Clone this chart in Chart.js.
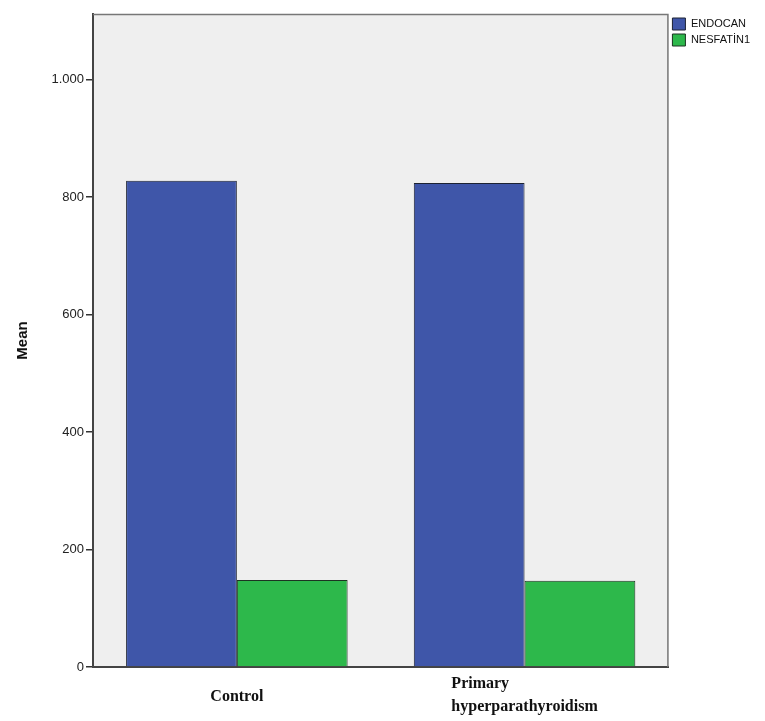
<!DOCTYPE html>
<html>
<head>
<meta charset="utf-8">
<script src="https://cdn.jsdelivr.net/npm/chart.js@4"></script>
<style>
  body { margin: 0; background: #fff; }
  #wrap { width: 765px; height: 721px; }
</style>
</head>
<body>
<div id="wrap"><canvas id="meanChart" width="765" height="721"></canvas></div>
<script>
// data
const groups = [["Control"], ["Primary", "hyperparathyroidism"]];
const endocan = [828, 824];
const nesfatin = [148, 147];
const yTicks = [0, 200, 400, 600, 800, 1000];

// plot background + thin frame on top/right
const plotFrame = {
    id: "plotFrame",
    beforeDraw(chart) {
        const a = chart.chartArea, c = chart.ctx;
        c.save();
        c.fillStyle = "#efefef";
        c.fillRect(a.left, a.top, a.right - a.left, a.bottom - a.top);
        c.restore();
    },
    afterDraw(chart) {
        const a = chart.chartArea, c = chart.ctx;
        c.save();
        c.strokeStyle = "#777";
        c.lineWidth = 1.5;
        c.beginPath();
        c.moveTo(a.left, a.top + 0.5);
        c.lineTo(a.right - 0.5, a.top + 0.5);
        c.lineTo(a.right - 0.5, a.bottom);
        c.stroke();

        // category labels, lines left aligned inside a centred block
        const xs = chart.scales.x;
        c.font = "bold 16px 'Liberation Serif', 'Times New Roman', serif";
        c.fillStyle = "#111";
        c.textBaseline = "middle";
        c.textAlign = "left";
        groups.forEach((lines, i) => {
            const cx = xs.getPixelForValue(i);
            const w = Math.max(...lines.map(t => c.measureText(t).width));
            const y0 = lines.length > 1 ? 684 : 697;
            lines.forEach((t, j) => c.fillText(t, cx - w / 2, y0 + j * 23));
        });
        c.restore();
    }
};

let chart = new Chart(document.getElementById("meanChart"), {
    type: "bar",
    data: {
        labels: groups.map(g => g.join(" ")),
        datasets: [
            {
                label: "ENDOCAN",
                data: endocan,
                backgroundColor: "#3f56a9",
                borderColor: "#1c2233",
                borderWidth: 1,
                categoryPercentage: 0.77,
                barPercentage: 1.0
            },
            {
                label: "NESFATİN1",
                data: nesfatin,
                backgroundColor: "#2db84b",
                borderColor: "#1c3322",
                borderWidth: 1,
                categoryPercentage: 0.77,
                barPercentage: 1.0
            }
        ]
    },
    options: {
        responsive: false,
        animation: false,
        layout: { padding: { top: 14, left: 14, right: 5, bottom: 0 } },
        plugins: {
            tooltip: { enabled: false },
            legend: {
                position: "right",
                align: "start",
                labels: {
                    boxWidth: 13,
                    boxHeight: 12,
                    padding: 4,
                    color: "#111",
                    font: { family: "'Liberation Sans', Arial, sans-serif", size: 11 }
                }
            }
        },
        scales: {
            x: {
                offset: true,
                grid: { display: false },
                border: { color: "#444", width: 2 },
                ticks: { display: false },
                afterFit(scale) { scale.height = 54; }
            },
            y: {
                min: 0,
                max: 1112,
                afterBuildTicks(scale) {
                    scale.ticks = yTicks.map(v => ({ value: v }));
                },
                grid: {
                    drawOnChartArea: false,
                    drawTicks: true,
                    tickLength: 7,
                    color: "#333",
                    lineWidth: 1.5
                },
                border: { color: "#444", width: 2 },
                ticks: {
                    color: "#222",
                    padding: 2,
                    font: { family: "'Liberation Sans', Arial, sans-serif", size: 13 },
                    callback: v => v.toLocaleString("de-DE")
                },
                title: {
                    display: true,
                    text: "Mean",
                    color: "#111",
                    padding: 0,
                    font: { family: "'Liberation Sans', Arial, sans-serif", size: 15, weight: "bold" }
                },
                afterFit(scale) { scale.width = 79; }
            }
        }
    },
    plugins: [plotFrame]
});
</script>
</body>
</html>
